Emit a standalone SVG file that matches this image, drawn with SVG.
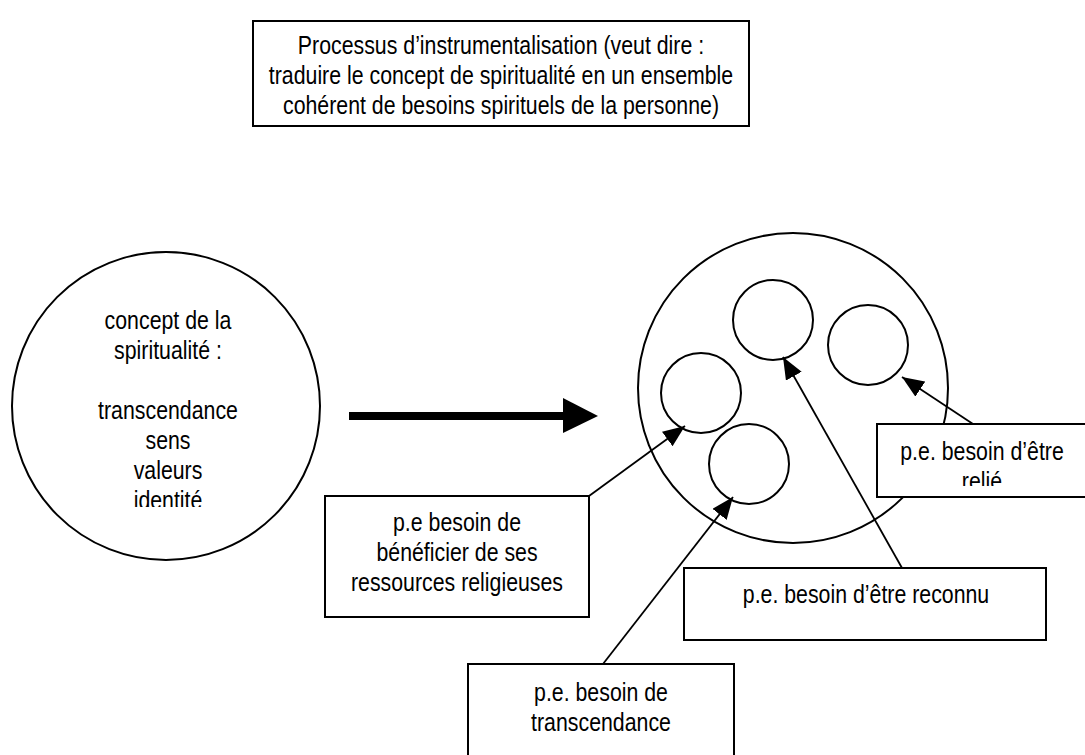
<svg xmlns="http://www.w3.org/2000/svg" width="1085" height="755" viewBox="0 0 1085 755">
  <style>
    .shape { fill: #ffffff; stroke: #000000; stroke-width: 2; }
    .ring { fill: none; stroke: #000000; stroke-width: 2; }
    .conn { fill: none; stroke: #000000; stroke-width: 1.8; }
    .lbl { font-family: "Liberation Sans", Arial, sans-serif; font-size: 26px; fill: #000000; text-anchor: middle; }
  </style>
  <defs>
    <marker id="ah" markerUnits="userSpaceOnUse" markerWidth="23" markerHeight="19" refX="22" refY="9" orient="auto">
      <path d="M0,0 L22,9 L0,18 z" fill="#000000"/>
    </marker>
    <clipPath id="clipLeft"><rect x="0" y="290" width="330" height="217"/></clipPath>
    <clipPath id="clipRelie"><rect x="877" y="424" width="210" height="62"/></clipPath>
  </defs>
  <rect x="0" y="0" width="1085" height="755" fill="#ffffff"/>

  <g id="title-box">
    <rect class="shape" x="253" y="21" width="496" height="105"/>
    <g class="lbl" transform="translate(501 0) scale(0.82 1)">
      <text x="0" y="54">Processus d’instrumentalisation (veut dire :</text>
      <text x="0" y="84">traduire le concept de spiritualité en un ensemble</text>
      <text x="0" y="114">cohérent de besoins spirituels de la personne)</text>
    </g>
  </g>

  <g id="concept-circle">
    <circle class="shape" cx="166" cy="406" r="154"/>
    <g clip-path="url(#clipLeft)">
      <g class="lbl" transform="translate(168 0) scale(0.82 1)">
        <text x="0" y="329">concept de la</text>
        <text x="0" y="359">spiritualité :</text>
        <text x="0" y="419">transcendance</text>
        <text x="0" y="449">sens</text>
        <text x="0" y="479">valeurs</text>
        <text x="0" y="509">identité</text>
      </g>
    </g>
  </g>

  <g id="needs-circle">
    <circle class="ring" cx="793" cy="388" r="155"/>
  </g>
  <g id="need-top"><circle class="shape" cx="773" cy="320" r="40"/></g>
  <g id="need-right"><circle class="shape" cx="868" cy="345" r="40"/></g>
  <g id="need-left"><circle class="shape" cx="701" cy="393" r="40"/></g>
  <g id="need-bottom"><circle class="shape" cx="749" cy="464" r="40"/></g>

  <g id="connectors">
    <rect x="349" y="412" width="216" height="8" fill="#000000"/>
    <polygon points="563,398 598,416 563,433" fill="#000000"/>
    <line class="conn" x1="589" y1="496" x2="685" y2="426" marker-end="url(#ah)"/>
    <line class="conn" x1="603" y1="664" x2="733" y2="497" marker-end="url(#ah)"/>
    <line class="conn" x1="902" y1="568" x2="783" y2="357" marker-end="url(#ah)"/>
    <line class="conn" x1="973" y1="424" x2="902" y2="377" marker-end="url(#ah)"/>
  </g>

  <g id="box-ressources">
    <rect class="shape" x="325" y="496" width="264" height="121"/>
    <g class="lbl" transform="translate(457 0) scale(0.82 1)">
      <text x="0" y="531">p.e besoin de</text>
      <text x="0" y="561">bénéficier de ses</text>
      <text x="0" y="591">ressources religieuses</text>
    </g>
  </g>

  <g id="box-transcendance">
    <rect class="shape" x="468" y="664" width="266" height="100"/>
    <g class="lbl" transform="translate(601 0) scale(0.82 1)">
      <text x="0" y="701">p.e. besoin de</text>
      <text x="0" y="731">transcendance</text>
    </g>
  </g>

  <g id="box-reconnu">
    <rect class="shape" x="684" y="568" width="362" height="72"/>
    <g class="lbl" transform="translate(866 0) scale(0.82 1)">
      <text x="0" y="603">p.e. besoin d’être reconnu</text>
    </g>
  </g>

  <g id="box-relie">
    <rect class="shape" x="877" y="424" width="212" height="73"/>
    <g clip-path="url(#clipRelie)">
      <g class="lbl" transform="translate(982 0) scale(0.82 1)">
        <text x="0" y="460">p.e. besoin d’être</text>
        <text x="0" y="490">relié</text>
      </g>
    </g>
  </g>
</svg>
